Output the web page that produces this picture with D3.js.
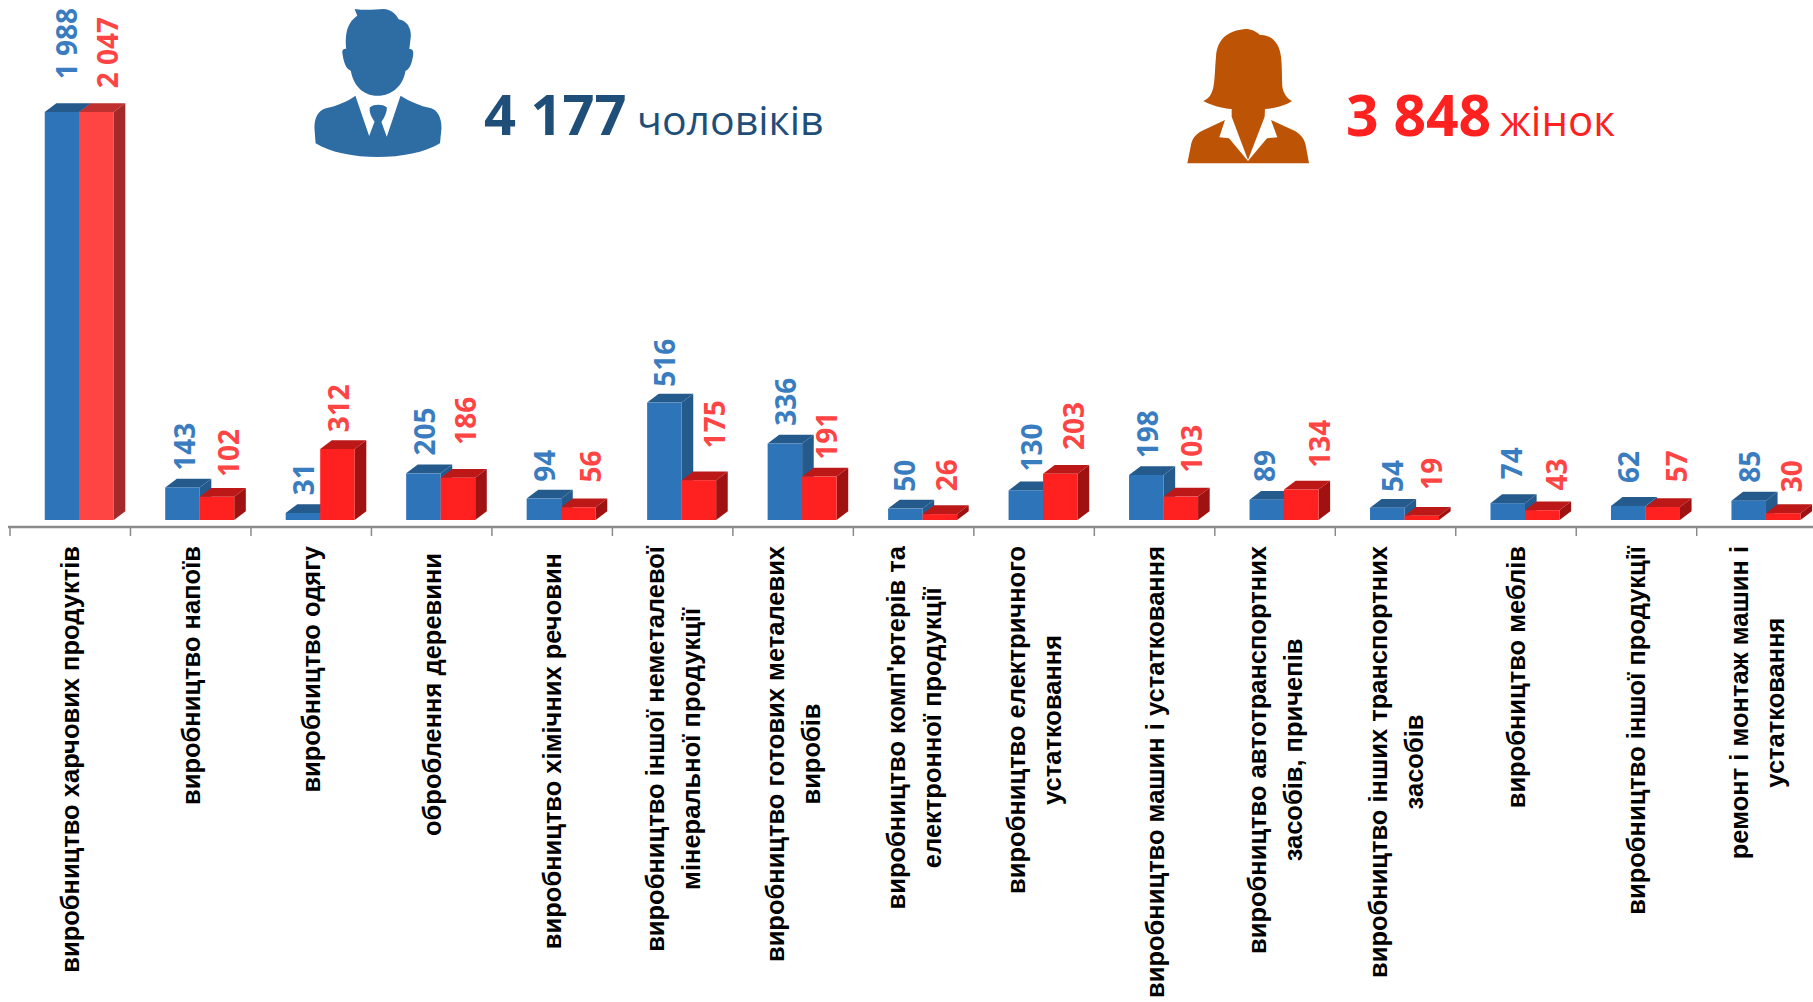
<!DOCTYPE html>
<html><head><meta charset="utf-8">
<script src="https://cdn.jsdelivr.net/npm/d3@7"></script>
<style>html,body{margin:0;background:#fff}svg{display:block}</style></head>
<body><svg width="1813" height="1002"></svg>
<script>
const categories=[["виробництво харчових продуктів"],["виробництво напоїв"],["виробництво одягу"],["оброблення деревини"],["виробництво хімічних речовин"],["виробництво іншої неметалевої","мінеральної продукції"],["виробництво готових металевих","виробів"],["виробництво комп'ютерів та","електронної продукції"],["виробництво електричного","устатковання"],["виробництво машин і устатковання"],["виробництво автотранспортних","засобів, причепів"],["виробництво інших транспортних","засобів"],["виробництво меблів"],["виробництво іншої продукції"],["ремонт і монтаж машин і","устатковання"]];
const men=[1988,143,31,205,94,516,336,50,130,198,89,54,74,62,85];
const women=[2047,102,312,186,56,175,191,26,203,103,134,19,43,57,30];
const totals=["4 177","3 848"];
const totalWords=["чоловіків","жінок"];
// hand-placed data-label nudges seen in the reference (px): across from the band centre, and gap above the bar
const menLabelDx=[7,4,3,3,3,2,3,1,8,3,0,7,6,3,3.5];
const womenLabelDx=[48,48,38,44,49,52,44,43,50,47,55,46,51,51,45.5];
const menLabelGap=[24,8,9,9,8,7,9,8,10,8,9,7,15,14,9];
const womenLabelGap=[15,11,8,24,16,23,8,14,15,15,13,17,11,16,12];
const catTop=[546,546,546,553,553,546,546,546,546,546,546,546,546,546,546];
const svg=d3.select("svg");
const fmt=v=>v>=1000?d3.format(",")(v).replace(","," "):String(v);
const x=d3.scaleBand().domain(d3.range(categories.length)).range([10,1817.2]);
const y=d3.scaleLinear().domain([0,1793]).range([520,112]).clamp(true);
const bw=34.5,dx=11.6,dy=8.8,barShift=9;
const blue={f:"#2e74b8",t:"#245a8c",s:"#245a8c"},red={f:"#ff2020",t:"#bd1818",s:"#a01212"},red0={f:"#ff4444",t:"#bf3030",s:"#a42a2a"};
function bar(g,x0,v,c){
 const top=y(v),base=y(0);
 g.append("path").attr("d",d3.line()([[x0,top],[x0+dx,top-dy],[x0+bw+dx,top-dy],[x0+bw,top]])+"Z").attr("fill",c.t);
 g.append("path").attr("d",d3.line()([[x0+bw,top],[x0+bw+dx,top-dy],[x0+bw+dx,base-dy],[x0+bw,base]])+"Z").attr("fill",c.s);
 g.append("rect").attr("x",x0).attr("y",top).attr("width",bw).attr("height",base-top).attr("fill",c.f);
}
const g=svg.append("g");
categories.forEach((c,i)=>{
 const cx=x(i)+x.bandwidth()/2+barShift;
 bar(g,cx-bw,men[i],blue);
 bar(g,cx,women[i],i===0?red0:red);
});
const lab=svg.append("g").attr("font-family","'Open Sans', sans-serif").attr("font-weight",700).attr("font-size",28);
categories.forEach((c,i)=>{
 const cx=x(i)+x.bandwidth()/2;
 lab.append("text").attr("transform",`translate(${cx+menLabelDx[i]},${y(men[i])-dy-menLabelGap[i]}) rotate(-90)`).attr("fill","#3a7cc0").text(fmt(men[i]));
 lab.append("text").attr("transform",`translate(${cx+womenLabelDx[i]},${y(women[i])-dy-womenLabelGap[i]}) rotate(-90)`).attr("fill","#ff4444").text(fmt(women[i]));
});
const axisG=svg.append("g").attr("transform","translate(0,527)");
axisG.append("line").attr("x1",8).attr("x2",1813).attr("stroke","#8a8a8a").attr("stroke-width",2.5);
d3.range(categories.length+1).forEach(i=>{const px=10+i*x.step();axisG.append("line").attr("x1",px).attr("x2",px).attr("y1",0).attr("y2",9).attr("stroke","#8a8a8a").attr("stroke-width",1.5);});
const cl=svg.append("g").attr("font-family","'Liberation Sans', sans-serif").attr("font-weight",700).attr("font-size",25.5).attr("fill","#000").attr("text-anchor","middle");
categories.forEach((c,i)=>{
 const cx=x(i)+x.bandwidth()/2;
 const nodes=c.map((t,j)=>cl.append("text").text(t));
 const L=d3.max(nodes,n=>n.node().getComputedTextLength());
 nodes.forEach((n,j)=>{
  n.attr("transform",`translate(${cx+9+(j-(c.length-1)/2)*36},${catTop[i]+L/2}) rotate(-90)`);
 });
});
const t=svg.append("g").attr("font-family","'Open Sans', sans-serif");
t.append("text").attr("x",484).attr("y",135).attr("font-size",56).attr("font-weight",700).attr("fill","#1f4e79").text(totals[0]);
t.append("text").attr("x",637).attr("y",135).attr("font-size",41).attr("fill","#1f4e79").text(totalWords[0]);
t.append("text").attr("x",1346).attr("y",136).attr("font-size",57).attr("font-weight",700).attr("fill","#ff2020").text(totals[1]);
t.append("text").attr("x",1500).attr("y",136).attr("font-size",42).attr("fill","#ff2020").text(totalWords[1]);
// icons
const man=svg.append("g").attr("fill","#2e6da4").attr("transform","translate(280,0) scale(.3827,.3333)");
man.append("path").attr("d","M195 27 C225 32 250 28 270 27 C290 28 303 42 310 58 C330 62 342 80 342 108 L338 147 C348 147 349 155 348 165 C345 190 338 210 328 212 C322 255 295 287 255 287 C215 287 192 255 185 212 C172 208 166 185 163 160 C162 150 165 146 173 146 C170 110 172 70 202 47 Z");
man.append("path").attr("d","M197 287 L233 408 L247 365 C238 350 232 335 235 322 C245 312 268 312 279 322 C280 335 274 352 265 366 L279 410 L315 287 C340 305 365 317 395 325 C412 332 422 352 422 385 L418 430 C340 485 170 485 93 430 L90 385 C90 352 100 332 120 325 C150 317 175 305 197 287 Z");
const woman=svg.append("g").attr("fill","#bd5405").attr("transform","translate(1160,0) scale(.3333)");
woman.append("path").attr("d","M255 87 C275 87 290 95 300 105 C330 103 358 125 363 170 C367 200 365 250 368 265 C372 285 385 298 396 303 C380 315 345 325 315 327 L314 350 L264 480 L215 350 L215 327 C185 325 150 315 130 303 C145 297 155 285 160 262 C165 240 165 200 168 170 C172 115 205 92 255 87 Z");
woman.append("path").attr("d","M195 360 L178 412 L207 415 L264 483 L321 415 L352 412 L333 360 L405 393 C425 405 435 420 438 440 L447 490 L82 490 L92 440 C95 420 103 405 125 393 Z");
</script></body></html>
